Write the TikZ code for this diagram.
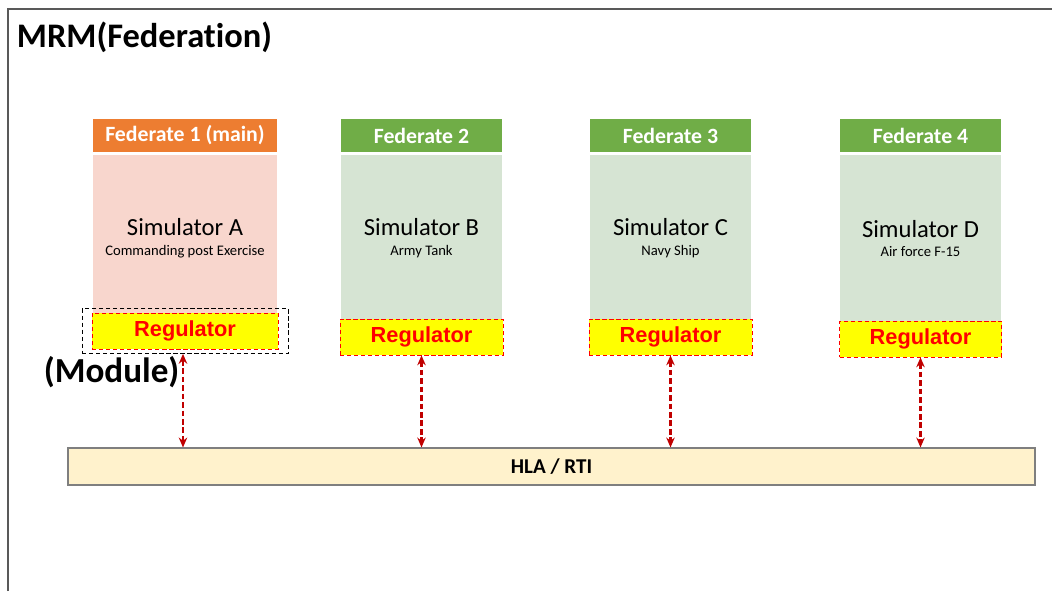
\documentclass[tikz,border=0pt]{standalone}
\usepackage{fontspec}
\setmainfont{Carlito}[Ligatures=NoCommon]
\newfontfamily\regfont{Liberation Sans}
\usepackage{tikz}
\usetikzlibrary{arrows.meta,positioning}
\definecolor{framegray}{HTML}{595959}
\definecolor{mainorange}{HTML}{ED7D31}
\definecolor{mainlt}{HTML}{F8D6CD}
\definecolor{fedgreen}{HTML}{70AD47}
\definecolor{fedlt}{HTML}{D6E4D3}
\definecolor{regyellow}{HTML}{FFFF00}
\definecolor{regred}{HTML}{FF0000}
\definecolor{linkred}{HTML}{C00000}
\definecolor{rtilt}{HTML}{FFF2CC}
\definecolor{rtigray}{HTML}{7F7F7F}

\begin{document}
\begin{tikzpicture}[
  head/.style={minimum height=0.825cm, inner sep=0pt, text=white, font=\fontsize{15.5}{18}\selectfont\bfseries},
  body/.style={minimum height=4.1cm, inner sep=0pt},
  simtxt/.style={align=center, inner sep=0pt},
  reg/.style={draw=regred, densely dashed, fill=regyellow, minimum height=0.9cm, inner sep=0pt, text=regred, font=\regfont\fontsize{15.5}{18}\selectfont\bfseries},
  link/.style={{Stealth[length=7pt,width=6pt]}-{Stealth[length=7pt,width=6pt]}, linkred, dash pattern=on 4pt off 2pt, line width=1.6pt},
]
\useasboundingbox (0,0) rectangle (26.3,14.775);

% Federation frame and title
\draw[framegray, line width=1.2pt] (0.2,0) |- (26.3,14.55);
\node[anchor=west, font=\fontsize{24.5}{30}\selectfont\bfseries] (title) at (0.3,13.85) {MRM(Federation)};

% Federate 1 (main)
\node[head, fill=mainorange, minimum width=4.6cm] (head1) at (4.625,11.3875) {Federate 1 (main)};
\node[body, fill=mainlt, minimum width=4.6cm, minimum height=3.95cm, below=0.05cm of head1] (sim1) {};
\node[simtxt] (txt1) at ([yshift=-0.12cm]sim1.center)
  {{\fontsize{17.5}{20}\selectfont Simulator A}\\[2pt]{\fontsize{10.4}{12}\selectfont Commanding post Exercise}};
\node[reg, minimum width=4.65cm, below=0pt of sim1] (reg1) {Regulator};
\node[draw, densely dashed, thin, minimum width=5.15cm, minimum height=1.125cm, inner sep=0pt] (module) at (reg1) {};
\node[font=\fontsize{25}{30}\selectfont\bfseries] (modlbl) at (2.79,5.475) {(Module)};

% Federate 2
\node[head, fill=fedgreen, minimum width=4.025cm] (head2) at (10.5375,11.3875) {Federate 2};
\node[body, fill=fedlt, minimum width=4.025cm, below=0.05cm of head2] (sim2) {};
\node[simtxt] (txt2) at (sim2.center |- txt1)
  {{\fontsize{17.5}{20}\selectfont Simulator B}\\[2pt]{\fontsize{10.4}{12}\selectfont Army Tank}};
\node[reg, minimum width=4.075cm, below=0pt of sim2] (reg2) {Regulator};

% Federate 3
\node[head, fill=fedgreen, minimum width=4.025cm] (head3) at (16.7625,11.3875) {Federate 3};
\node[body, fill=fedlt, minimum width=4.025cm, below=0.05cm of head3] (sim3) {};
\node[simtxt] (txt3) at (sim3.center |- txt1)
  {{\fontsize{17.5}{20}\selectfont Simulator C}\\[2pt]{\fontsize{10.4}{12}\selectfont Navy Ship}};
\node[reg, minimum width=4.075cm, below=0pt of sim3] (reg3) {Regulator};

% Federate 4
\node[head, fill=fedgreen, minimum width=4.025cm] (head4) at (23.0125,11.3875) {Federate 4};
\node[body, fill=fedlt, minimum width=4.025cm, minimum height=4.15cm, below=0.05cm of head4] (sim4) {};
\node[simtxt] (txt4) at (sim4.center |- txt1)
  {{\fontsize{17.5}{20}\selectfont Simulator D}\\[2pt]{\fontsize{10.4}{12}\selectfont Air force F-15}};
\node[reg, minimum width=4.05cm, below=0pt of sim4] (reg4) {Regulator};

% HLA / RTI bus
\node[draw=rtigray, fill=rtilt, line width=0.8pt, minimum width=24.175cm, minimum height=0.925cm, inner sep=0pt,
  font=\fontsize{15}{18}\selectfont\bfseries] (rti) at (13.7875,3.1125) {HLA / RTI};

% Regulator <-> RTI links
\draw[link] ([xshift=-0.05cm]module.south) -- ([xshift=-0.05cm]module.south |- rti.north);
\draw[link] (reg2.south) -- (reg2.south |- rti.north);
\draw[link] (reg3.south) -- (reg3.south |- rti.north);
\draw[link] (reg4.south) -- (reg4.south |- rti.north);

\end{tikzpicture}
\end{document}
